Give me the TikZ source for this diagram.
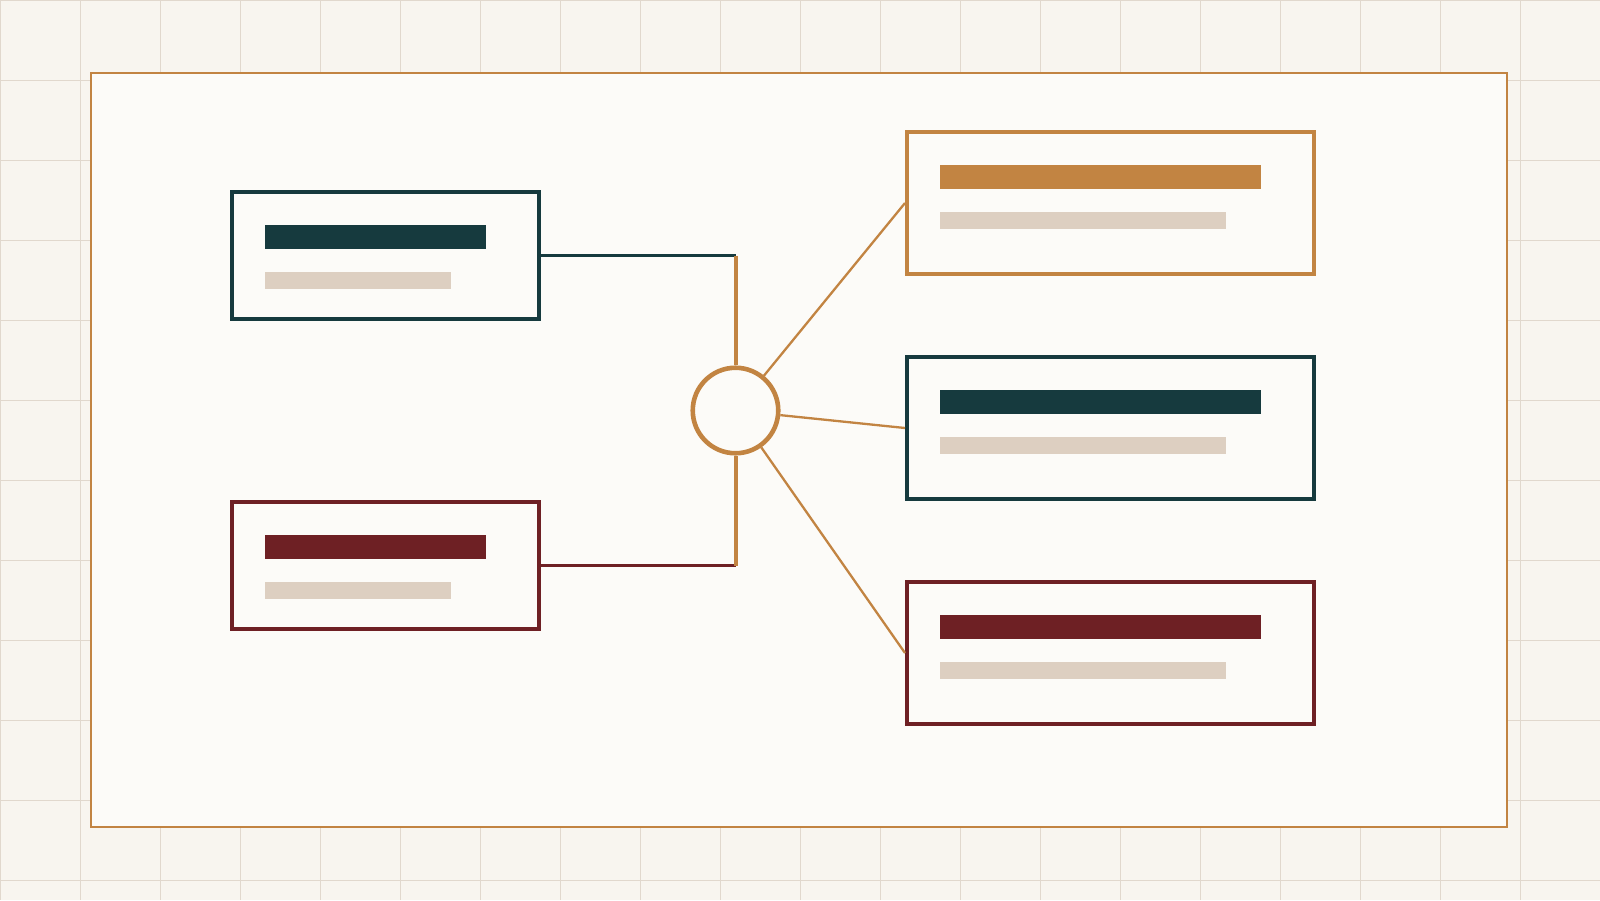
\documentclass[tikz,border=0pt]{standalone}
\usetikzlibrary{positioning}

\definecolor{canvasbg}{HTML}{F8F5EF}
\definecolor{gridc}{HTML}{E1D8CD}
\definecolor{paper}{HTML}{FCFBF8}
\definecolor{ochre}{HTML}{C28442}
\definecolor{deepteal}{HTML}{163A3E}
\definecolor{wine}{HTML}{6E2024}
\definecolor{sand}{HTML}{DDCFC1}

\tikzset{
    card/.style={rectangle, draw=#1, line width=4pt, fill=paper, inner sep=0pt},
    smallcard/.style={card=#1, minimum width=307pt, minimum height=127pt},
    bigcard/.style={card=#1, minimum width=407pt, minimum height=142pt},
    titlebar/.style={rectangle, fill=#1, inner sep=0pt, minimum height=24pt, anchor=north west},
    subbar/.style={rectangle, fill=sand, inner sep=0pt, minimum height=17pt, anchor=north west},
    spoke/.style={draw=ochre, line width=2.3pt},
}

\begin{document}
\begin{tikzpicture}[x=1pt,y=-1pt]

        \useasboundingbox (0,0) rectangle (1600,900);
        \fill[canvasbg] (0,0) rectangle (1600,900);
        \foreach \i in {0,...,20} \draw[gridc, line width=1pt] (80*\i+0.5,0) -- (80*\i+0.5,900);
        \foreach \j in {0,...,11} \draw[gridc, line width=1pt] (0,80*\j+0.5) -- (1600,80*\j+0.5);

        \draw[ochre, line width=2pt, fill=paper] (91,73) rectangle (1507,827);

        % left side
        \node[smallcard=deepteal] (lt) at (385.5,255.5) {};
        \node[titlebar=deepteal, minimum width=221pt] (lt1) at ([shift={(35,35)}]lt.north west) {};
        \node[subbar, minimum width=186pt] (lt2) at ([shift={(35,82)}]lt.north west) {};

        \node[smallcard=wine] (lb) at (385.5,565.5) {};
        \node[titlebar=wine, minimum width=221pt] (lb1) at ([shift={(35,35)}]lb.north west) {};
        \node[subbar, minimum width=186pt] (lb2) at ([shift={(35,82)}]lb.north west) {};

        % right side
        \node[bigcard=ochre] (rt) at (1110.5,203) {};
        \node[titlebar=ochre, minimum width=321pt] (rt1) at ([shift={(35,35)}]rt.north west) {};
        \node[subbar, minimum width=286pt] (rt2) at ([shift={(35,82)}]rt.north west) {};

        \node[bigcard=deepteal] (rm) at (1110.5,428) {};
        \node[titlebar=deepteal, minimum width=321pt] (rm1) at ([shift={(35,35)}]rm.north west) {};
        \node[subbar, minimum width=286pt] (rm2) at ([shift={(35,82)}]rm.north west) {};

        \node[bigcard=wine] (rb) at (1110.5,653) {};
        \node[titlebar=wine, minimum width=321pt] (rb1) at ([shift={(35,35)}]rb.north west) {};
        \node[subbar, minimum width=286pt] (rb2) at ([shift={(35,82)}]rb.north west) {};

        % hub
        \node[circle, draw=ochre, line width=4.6pt, fill=paper, minimum size=85.5pt, inner sep=0pt] (hub) at (735.5,410.5) {};

        \coordinate (jt) at (lt.east -| hub);
        \coordinate (jb) at (lb.east -| hub);
        \draw[deepteal, line width=3pt] (lt.east) -- (jt);
        \draw[wine, line width=3pt] (lb.east) -- (jb);
        \draw[ochre, line width=4pt] (jt) -- (hub.north);
        \draw[ochre, line width=4pt] (jb) -- (hub.south);

        \draw[spoke] (hub) -- (rt.west);
        \draw[spoke] (hub) -- (rm.west);
        \draw[spoke] (hub) -- (rb.west);
    \end{tikzpicture}
\end{document}
